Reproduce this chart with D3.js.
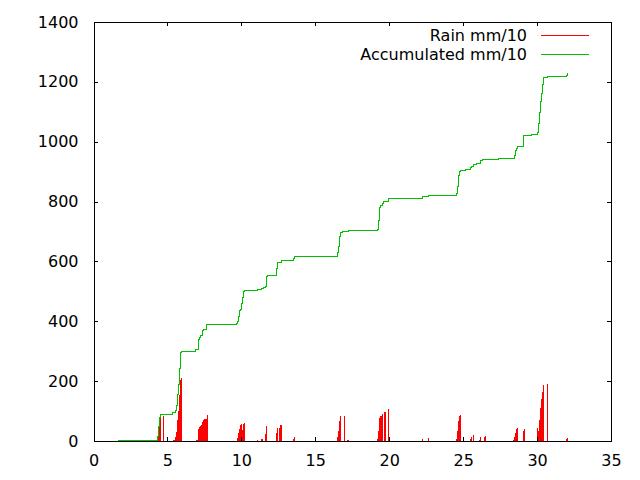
<!DOCTYPE html>
<html>
<head>
<meta charset="utf-8">
<script src="https://cdn.jsdelivr.net/npm/d3@7"></script>
<style>
  body { margin: 0; background: #fff; }
  svg { display: block; font-family: "DejaVu Sans", sans-serif; }
</style>
</head>
<body>
<svg id="chart" width="640" height="480"></svg>
<script>
// day of month (fractional) vs rain since midnight, mm/10
const rainDays = [
  4.33, 4.40, 4.46, 4.53, 4.73,
  5.41, 5.48, 5.55, 5.61, 5.68, 5.75, 5.82, 5.88, 5.95,
  6.97, 7.03, 7.10, 7.17, 7.24, 7.30, 7.37, 7.44, 7.51, 7.57, 7.64, 7.71,
  9.74, 9.81, 9.88, 9.94, 10.01, 10.07, 10.14, 10.21,
  11.09, 11.36, 11.43, 11.63, 11.70,
  12.37, 12.44, 12.61, 12.68,
  13.53, 13.59,
  16.50, 16.57, 16.64, 16.71, 16.98, 17.18, 17.25,
  19.21, 19.27, 19.34, 19.41, 19.48, 19.55, 19.68, 19.75, 19.95,
  22.25, 22.66,
  24.55, 24.62, 24.69, 24.75, 24.82,
  25.50, 25.56, 25.70,
  26.10, 26.17, 26.44, 26.51,
  28.40, 28.47, 28.54, 28.61, 28.68,
  29.08, 29.15,
  30.03, 30.10, 30.16, 30.23, 30.30, 30.37, 30.44, 30.70,
  31.99, 32.06,
];
const rainValues = [
  17, 48, 79, 87, 85,
  3, 5, 12, 31, 70, 101, 154, 204, 210,
  3, 5, 40, 48, 51, 55, 64, 70, 72, 73, 74, 87,
  9, 26, 40, 53, 57, 37, 58, 61,
  3, 7, 7, 24, 51,
  28, 43, 43, 53,
  6, 14,
  13, 33, 67, 84, 84, 3, 3,
  7, 33, 77, 84, 84, 90, 97, 97, 107,
  7, 10,
  7, 33, 67, 84, 87,
  7, 13, 20,
  3, 13, 13, 17,
  4, 13, 28, 39, 44,
  33, 41,
  44, 33, 71, 109, 140, 165, 187, 190,
  7, 10,
];

// running total, mm/10
const accDays = [
  1.68,
  4.34, 4.41, 4.48, 4.54, 4.75,
  5.37, 5.53, 5.60, 5.67, 5.73, 5.80, 5.87, 5.94,
  6.93, 7.07, 7.15, 7.22, 7.29, 7.38, 7.45, 7.56, 7.65, 7.72,
  9.68, 9.75, 9.82, 9.89, 9.95, 10.02, 10.09, 10.16, 10.22,
  11.08, 11.35, 11.48, 11.62, 11.69, 11.75,
  12.36, 12.43, 12.70,
  13.51, 13.58,
  16.48, 16.55, 16.62, 16.69, 16.82, 17.23,
  19.19, 19.26, 19.33, 19.39, 19.53, 19.60, 19.93,
  22.23, 22.64,
  24.53, 24.60, 24.67, 24.74, 24.80,
  25.14, 25.48, 25.55, 25.68, 25.88, 26.15, 26.29,
  27.42,
  28.45, 28.52, 28.59, 28.66,
  29.06, 29.60,
  30.01, 30.08, 30.14, 30.21, 30.28, 30.35, 30.41, 30.68,
  31.97, 32.04,
];
const accValues = [
  3,
  14, 50, 78, 87, 89,
  94, 101, 120, 157, 190, 243, 296, 300,
  305, 340, 345, 351, 353, 368, 372, 374, 388, 390,
  393, 400, 417, 435, 441, 459, 479, 501, 503,
  507, 510, 513, 517, 550, 554,
  577, 597, 604,
  610, 617,
  630, 650, 684, 697, 701, 704,
  708, 738, 781, 787, 794, 801, 811,
  818, 821,
  828, 851, 888, 901, 904,
  908, 914, 918, 924, 928, 938, 941,
  944,
  953, 971, 978, 985,
  1020, 1025,
  1031, 1061, 1098, 1135, 1162, 1192, 1215, 1218,
  1222, 1228,
];

const seriesNames = ['Rain mm/10', 'Accumulated mm/10'];
const seriesColors = ['#ff0000', '#00c000'];
const xTicks = [0, 5, 10, 15, 20, 25, 30, 35];
const yTicks = [0, 200, 400, 600, 800, 1000, 1200, 1400];

const svg = d3.select('#chart');
const margin = {
  top: 22, right: 29, bottom: 39, left: 93.5,
};
const width = +svg.attr('width') - margin.left - margin.right;
const height = +svg.attr('height') - margin.top - margin.bottom;
const g = svg.append('g').attr('transform', `translate(${margin.left},${margin.top})`);

const x = d3.scaleLinear().domain([0, 35]).range([0, width]);
const y = d3.scaleLinear().domain([0, 1400]).range([height, 0]);

// impulses
const rain = rainDays.map((d, i) => ({ day: d, value: rainValues[i] }));
g.append('g')
  .attr('shape-rendering', 'crispEdges')
  .selectAll('line')
  .data(rain)
  .enter().append('line')
  .attr('x1', d => x(d.day))
  .attr('x2', d => x(d.day))
  .attr('y1', y(0))
  .attr('y2', d => y(d.value))
  .attr('stroke', seriesColors[0])
  .attr('stroke-width', 1.4);

const acc = accDays.map((d, i) => ({ day: d, value: accValues[i] }));
const line = d3.line()
  .x(d => x(d.day))
  .y(d => y(d.value))
  .curve(d3.curveStepAfter);
g.append('path')
  .datum(acc)
  .attr('d', line)
  .attr('fill', 'none')
  .attr('stroke', seriesColors[1])
  .attr('stroke-width', 1)
  .attr('shape-rendering', 'crispEdges');

// gnuplot style axes: ticks inside, mirrored
const tickLen = 4;
const fmt = d3.format('d');
const axisG = g.append('g').attr('shape-rendering', 'crispEdges');
const gx = axisG.append('g').attr('transform', `translate(0,${height})`)
  .call(d3.axisBottom(x).tickValues(xTicks).tickFormat(fmt)
    .tickSizeInner(-tickLen).tickSizeOuter(0).tickPadding(14));
const gxTop = axisG.append('g')
  .call(d3.axisTop(x).tickValues(xTicks).tickSizeInner(-tickLen).tickSizeOuter(0).tickFormat(''));
const gy = axisG.append('g')
  .call(d3.axisLeft(y).tickValues(yTicks).tickFormat(fmt)
    .tickSizeInner(-tickLen).tickSizeOuter(0).tickPadding(15));
const gyRight = axisG.append('g').attr('transform', `translate(${width},0)`)
  .call(d3.axisRight(y).tickValues(yTicks).tickSizeInner(-tickLen).tickSizeOuter(0).tickFormat(''));

[gx, gxTop, gy, gyRight].forEach((a) => {
  a.select('.domain').attr('stroke', '#000').attr('stroke-width', 1);
  a.selectAll('.tick line').attr('stroke', '#000');
  a.selectAll('text')
    .attr('font-family', '"DejaVu Sans", sans-serif')
    .attr('font-size', 16)
    .attr('fill', '#000');
});

// legend
const legend = svg.append('g');
seriesNames.forEach((name, i) => {
  const ly = 35 + i * 19;
  legend.append('text')
    .attr('x', 527)
    .attr('y', ly)
    .attr('dy', '0.35em')
    .attr('text-anchor', 'end')
    .attr('font-size', 16)
    .attr('fill', '#000')
    .text(name);
  legend.append('line')
    .attr('x1', 541)
    .attr('x2', 589)
    .attr('y1', ly + 0.5)
    .attr('y2', ly + 0.5)
    .attr('stroke', seriesColors[i])
    .attr('stroke-width', 1)
    .attr('shape-rendering', 'crispEdges');
});
</script>
</body>
</html>
